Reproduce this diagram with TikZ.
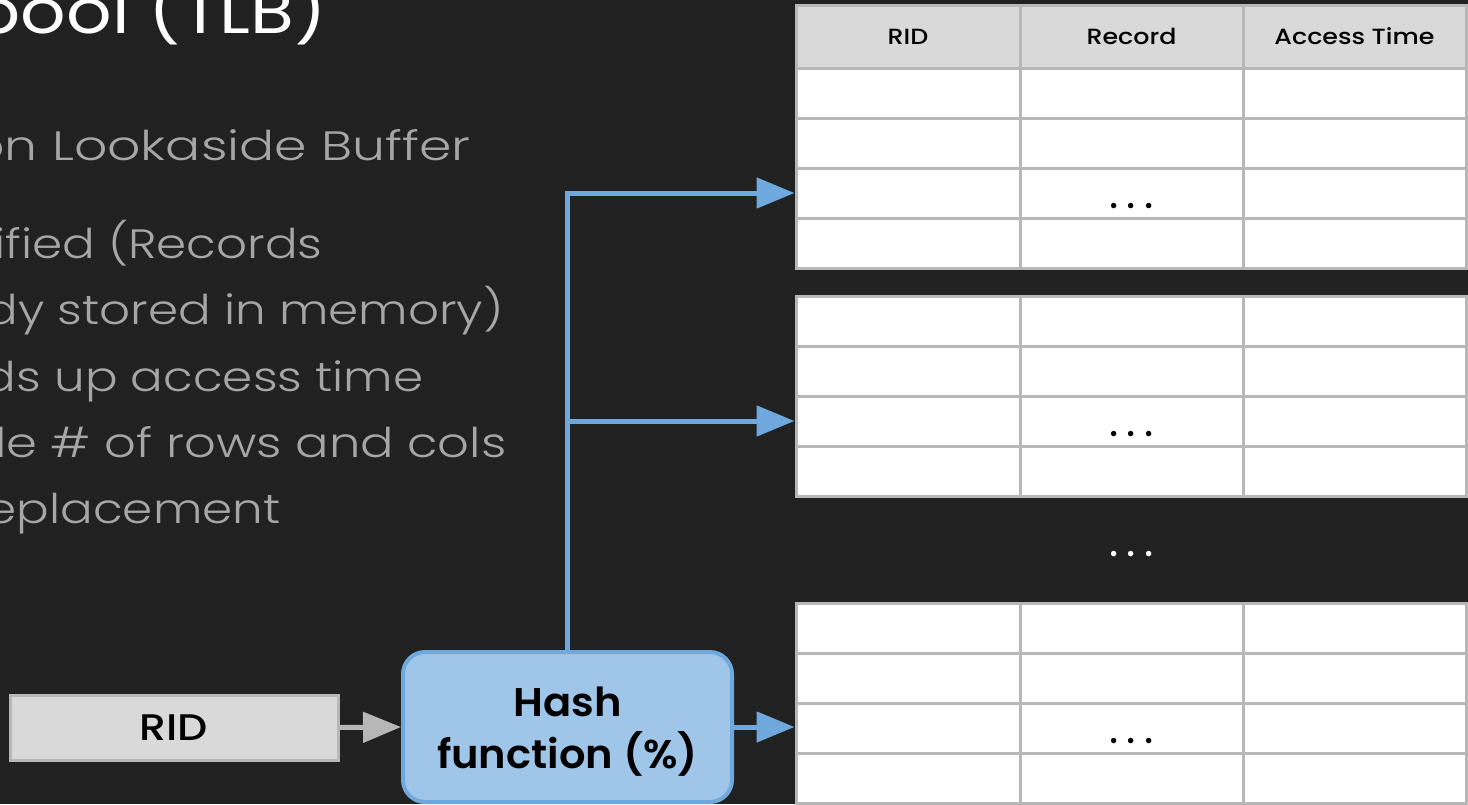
\documentclass[tikz,border=0pt]{standalone}
\usepackage{fontspec}
\setmainfont{Poppins}
\newfontfamily\lightfont{Poppins Light}[FakeStretch=1.18]
\newfontfamily\lightwide{Poppins Light}[FakeStretch=1.27]
\newfontfamily\lightmid{Poppins Light}[FakeStretch=1.21]
\newfontfamily\titlefont{Poppins}[FakeStretch=1.15]
\newfontfamily\mediumfont{Poppins Medium}[FakeStretch=1.15]
\newfontfamily\semifont{Poppins SemiBold}[FakeStretch=1.04]
\usetikzlibrary{arrows.meta}

\definecolor{bg}{HTML}{212121}
\definecolor{bodygray}{HTML}{A6A6A6}
\definecolor{cellline}{HTML}{B7B7B7}
\definecolor{headfill}{HTML}{D9D9D9}
\definecolor{hashfill}{HTML}{9FC5E8}
\definecolor{hashline}{HTML}{6FA8DC}

\tikzset{
  cell/.style={draw=cellline, line width=3pt, fill=white, inner sep=0pt,
    minimum height=50pt},
  headcell/.style={cell, fill=headfill, minimum height=63pt,
    font=\mediumfont\fontsize{22}{22}\selectfont, text=black},
  bodyline/.style={anchor=base east, text=bodygray,
    font=\lightfont\fontsize{41}{41}\selectfont},
  dotsnode/.style={anchor=base, inner sep=0pt,
    font=\fontsize{44}{44}\selectfont},
  bluearrow/.style={draw=hashline, line width=5pt,
    -{Triangle[length=38pt,width=30pt]}},
  grayarrow/.style={draw=cellline, line width=5pt,
    -{Triangle[length=38pt,width=30pt]}},
}
\newcommand{\tripledot}{.\hspace{8pt}.\hspace{8pt}.}

\begin{document}
\begin{tikzpicture}[x=1pt,y=-1pt]
\useasboundingbox (0,0) rectangle (1468,804);
\clip (0,0) rectangle (1468,804);
\fill[bg] (0,0) rectangle (1468,804);

% title and bullet text running in from the left edge
\node[anchor=base east, text=white, font=\titlefont\fontsize{62}{62}\selectfont]
  (title) at (330,33) {pool (TLB)};
\node[bodyline, font=\lightwide\fontsize{41}{41}\selectfont]
  (l1) at (474,160) {on Lookaside Buffer};
\node[bodyline] (l2) at (326,258) {ified (Records};
\node[bodyline] (l3) at (507,324) {dy stored in memory)};
\node[bodyline] (l4) at (427,391) {ds up access time};
\node[bodyline, font=\lightmid\fontsize{41}{41}\selectfont]
  (l5) at (510,457) {le \# of rows and cols};
\node[bodyline] (l6) at (284,523) {eplacement};

% table 1 header
\node[headcell, minimum width=224pt] (h1) at (908,36.5) {RID};
\node[headcell, minimum width=223pt] (h2) at (1131.5,36.5) {Record};
\node[headcell, minimum width=223pt] (h3) at (1354.5,36.5) {Access Time};

% table bodies: four rows each
\foreach \t/\top in {1/68, 2/296, 3/603} {
  \foreach \r in {1,...,4} {
    \pgfmathsetmacro{\cy}{\top + 50*\r - 25}
    \node[cell, minimum width=224pt] (t\t r\r c1) at (908,\cy) {};
    \node[cell, minimum width=223pt] (t\t r\r c2) at (1131.5,\cy) {};
    \node[cell, minimum width=223pt] (t\t r\r c3) at (1354.5,\cy) {};
  }
}

% elided rows
\node[dotsnode, text=black] (d1) at ([yshift=-15pt]t1r3c2.center) {\tripledot};
\node[dotsnode, text=black] (d2) at ([yshift=-15pt]t2r3c2.center) {\tripledot};
\node[dotsnode, text=black] (d3) at ([yshift=-15pt]t3r3c2.center) {\tripledot};
\node[dotsnode, text=white] (dmid) at (1131.5,556) {\tripledot};

% input and hash function
\node[draw=cellline, line width=3pt, fill=headfill, minimum width=328pt,
  minimum height=65pt, inner sep=0pt,
  font=\mediumfont\fontsize{37}{37}\selectfont]
  (rid) at (174,727.5) {RID};
\node[draw=hashline, line width=4pt, fill=hashfill, rounded corners=22pt,
  minimum width=329pt, minimum height=150pt, inner sep=0pt]
  (hash) at (567.5,727) {};
\node[align=center, inner sep=0pt, font=\semifont\fontsize{40}{52}\selectfont]
  (hashtext) at ([yshift=-5pt]hash.center) {Hash\\function (\%)};

% connectors
\draw[grayarrow] (rid.east) -- (hash.west);
\draw[bluearrow] (hash.north) |- (t1r3c1.west);
\draw[bluearrow] (hash.north) |- (t2r3c1.west);
\draw[bluearrow] (hash.east) -- (hash.east -| t3r3c1.west);
\end{tikzpicture}
\end{document}
